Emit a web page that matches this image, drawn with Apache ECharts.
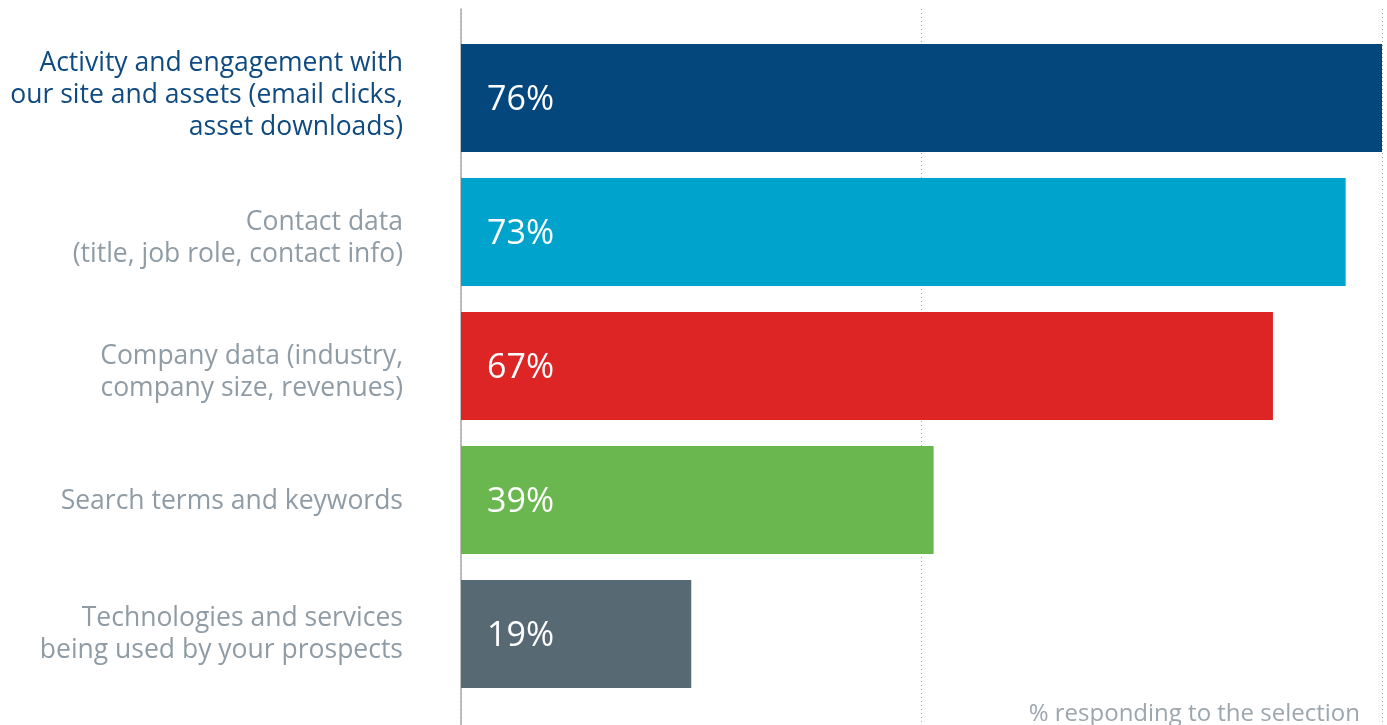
<!DOCTYPE html>
<html>
<head>
<meta charset="utf-8">
<script src="https://cdn.jsdelivr.net/npm/echarts@6/dist/echarts.min.js"></script>
<style>
  html, body { margin: 0; padding: 0; background: #ffffff; }
  #chart { width: 1387px; height: 725px; }
</style>
</head>
<body>
<div id="chart"></div>
<script>
// Data types used to score leads, share of respondents selecting each
const categories = [
  'Activity and engagement with\nour site and assets (email clicks,\nasset downloads)',
  'Contact data\n(title, job role, contact info)',
  'Company data (industry,\ncompany size, revenues)',
  'Search terms and keywords',
  'Technologies and services\nbeing used by your prospects'
];
const values = [76, 73, 67, 39, 19];
const axisTicks = [0, 38, 76];
const footnote = '% responding to the selection';

// Palette, one colour per bar
const barColors = ['#03477c', '#00a3cb', '#de2525', '#6ab750', '#576a74'];
// Small vertical nudges for the category captions
const labelPads = [[0, 0, 6, 0], [12, 0, 0, 0], [12, 0, 0, 0], [2, 0, 0, 0], [0, 0, 0, 0]];

const FONT = '"Open Sans", "Noto Sans", sans-serif';
const chart = echarts.init(document.getElementById('chart'), null, { renderer: 'canvas' });

chart.setOption({
  backgroundColor: '#ffffff',
  animation: false,
  grid: [
    // bars
    { left: 461, width: 921, top: 31, height: 670, containLabel: false },
    // frame: left axis line and dotted gridlines
    { left: 461, width: 921, top: 9, bottom: -20, containLabel: false }
  ],
  xAxis: [
    {
      gridIndex: 0, type: 'value',
      min: axisTicks[0], max: axisTicks[axisTicks.length - 1], interval: axisTicks[1] - axisTicks[0],
      axisLine: { show: false }, axisTick: { show: false }, axisLabel: { show: false },
      splitLine: { show: false }
    },
    {
      gridIndex: 1, type: 'value',
      min: axisTicks[0], max: axisTicks[axisTicks.length - 1], interval: axisTicks[1] - axisTicks[0],
      axisLine: { show: false }, axisTick: { show: false }, axisLabel: { show: false },
      splitLine: {
        show: true,
        lineStyle: { color: '#a8a8a8', type: [1, 3], width: 1 }
      },
      z: 0
    }
  ],
  yAxis: [
    {
      gridIndex: 0, type: 'category', inverse: true,
      data: categories.map(function (c, i) {
        return { value: c, textStyle: { padding: labelPads[i] } };
      }),
      axisLine: { show: false }, axisTick: { show: false },
      axisLabel: {
        margin: 58,
        align: 'right',
        formatter: function (v, i) {
          const style = i === 0 ? 'hl' : 'base';
          return v.split('\n').map(function (l) { return '{' + style + '|' + l + '}'; }).join('\n');
        },
        rich: {
          hl: { color: '#0f4a80', fontSize: 26.5, lineHeight: 32, fontFamily: FONT, align: 'right' },
          base: { color: '#8f9ca5', fontSize: 26.5, lineHeight: 32, fontFamily: FONT, align: 'right' }
        }
      }
    },
    {
      gridIndex: 1, type: 'category', data: categories, inverse: true,
      axisLine: { show: true, lineStyle: { color: '#a9a9a9', width: 1.5 } },
      axisTick: { show: false }, axisLabel: { show: false }, splitLine: { show: false }
    }
  ],
  series: [
    {
      type: 'bar',
      xAxisIndex: 0, yAxisIndex: 0,
      barWidth: 108,
      z: 3,
      data: values.map(function (v, i) {
        return { value: v, itemStyle: { color: barColors[i] } };
      }),
      label: {
        show: true,
        position: 'insideLeft',
        offset: [21, 2],
        formatter: '{c}%',
        color: '#ffffff',
        fontSize: 34,
        fontFamily: FONT
      }
    }
  ],
  graphic: [
    {
      type: 'text',
      right: 1387 - 1360,
      top: 702,
      style: {
        text: footnote,
        fill: '#9ba6ae',
        font: '24px ' + FONT,
        textAlign: 'right'
      }
    }
  ]
});
</script>
</body>
</html>
